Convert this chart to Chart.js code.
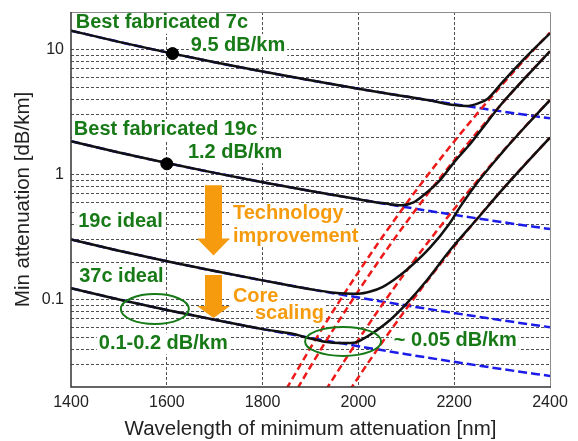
<!DOCTYPE html>
<html lang="en">
<head>
    <meta charset="UTF-8">
    <title>Min attenuation vs wavelength</title>
    <script src="https://cdnjs.cloudflare.com/ajax/libs/Chart.js/4.4.0/chart.umd.min.js"></script>
    <style>
        html, body { margin: 0; padding: 0; background: #fff; }
        #wrap { width: 578px; height: 441px; }
    </style>
</head>
<body>
<div id="wrap"><canvas id="lossChart" width="578" height="441"></canvas></div>
<script>
// wavelength [nm] and attenuation [dB/km]

// blue dashed: scattering-like part of each fibre
const blueWl = [1400, 1500, 1600, 1700, 1800, 1900, 2000, 2100, 2200, 2300, 2400];
const blue7c = [14.2, 11.54, 9.51, 7.93, 6.68, 5.68, 4.87, 4.21, 3.66, 3.2, 2.82];
const blue19c = [1.85, 1.504, 1.239, 1.033, 0.87, 0.74, 0.635, 0.548, 0.477, 0.417, 0.367];
const blueIdeal19 = [0.303, 0.2463, 0.203, 0.1692, 0.1426, 0.1212, 0.1039, 0.0898, 0.0781, 0.0683, 0.0601];
const blueIdeal37 = [0.1235, 0.1004, 0.0827, 0.069, 0.0581, 0.0494, 0.0424, 0.0366, 0.0318, 0.0278, 0.0245];

// red dashed: IR absorption edges
const redWl = [1850, 1900, 1950, 2000, 2050, 2100, 2150, 2200, 2250, 2300, 2350, 2400];
const redA = [0.0194, 0.0412, 0.0841, 0.166, 0.3166, 0.5855, 1.053, 1.843, 3.146, 5.248, 8.566, 13.7];
const redB = [0.01374, 0.02917, 0.0596, 0.1175, 0.2242, 0.4146, 0.7454, 1.305, 2.228, 3.715, 6.065, 9.698];
const redC = [0.00559, 0.01189, 0.02428, 0.04786, 0.0913, 0.1689, 0.3036, 0.5314, 0.9074, 1.514, 2.471, 3.952];
const redD = [0.0028, 0.00594, 0.01214, 0.02393, 0.04566, 0.08446, 0.1518, 0.2658, 0.4537, 0.7568, 1.235, 1.976];

// black: total loss curves
const black7cWl = [1400, 1500, 1600, 1700, 1800, 1900, 2000, 2100, 2150, 2200, 2225, 2250, 2270, 2300, 2350, 2400];
const black7c = [14.2, 11.54, 9.51, 7.93, 6.68, 5.68, 4.87, 4.21, 3.92, 3.6, 3.54, 3.72, 4.05, 5.45, 8.75, 13.5];
const black19cWl = [1400, 1500, 1600, 1700, 1800, 1900, 2000, 2050, 2090, 2115, 2135, 2170, 2200, 2230, 2255, 2300, 2350, 2400];
const black19c = [1.85, 1.504, 1.239, 1.033, 0.87, 0.74, 0.635, 0.592, 0.568, 0.6, 0.68, 0.9, 1.26, 1.7, 2.25, 3.72, 6.05, 9.7];
const blackIdeal19Wl = [1400, 1500, 1600, 1700, 1800, 1900, 1950, 2000, 2025, 2050, 2075, 2100, 2150, 2190, 2212, 2250, 2300, 2350, 2400];
const blackIdeal19 = [0.303, 0.2463, 0.203, 0.1692, 0.1426, 0.1212, 0.1135, 0.1115, 0.116, 0.126, 0.145, 0.172, 0.262, 0.405, 0.55, 0.88, 1.5, 2.46, 3.95];
const blackIdeal37Wl = [1400, 1500, 1600, 1700, 1800, 1860, 1900, 1930, 1960, 1990, 2010, 2030, 2066, 2100, 2143, 2190, 2250, 2300, 2350, 2400];
const blackIdeal37 = [0.1235, 0.1004, 0.0827, 0.069, 0.0581, 0.0535, 0.0488, 0.046, 0.0449, 0.0452, 0.0485, 0.054, 0.0687, 0.0925, 0.143, 0.245, 0.452, 0.755, 1.23, 1.98];

// best fabricated points
const markWl = [1612, 1600];
const markAtt = [9.3, 1.22];

// axis ticks
const xTicks = [1400, 1600, 1800, 2000, 2200, 2400];
const yGrid = [0.02, 0.03, 0.04, 0.05, 0.06, 0.07, 0.08, 0.09, 0.1, 0.2, 0.3, 0.4, 0.5, 0.6, 0.7, 0.8, 0.9,
               1, 2, 3, 4, 5, 6, 7, 8, 9, 10, 20];
const yLabels = [0.1, 1, 10];

// annotations (anchored in data units)
const FONT = '"Liberation Sans", Arial, sans-serif';
const GREEN = '#177a17';
const ORANGE = '#f59b0d';
const greenNotes = [
    { text: 'Best fabricated 7c', wl: 1410, att: 16.4 },
    { text: '9.5 dB/km', wl: 1650, att: 10.86 },
    { text: 'Best fabricated 19c', wl: 1406, att: 2.28 },
    { text: '1.2 dB/km', wl: 1644, att: 1.51 },
    { text: '19c ideal', wl: 1415, att: 0.418 },
    { text: '37c ideal', wl: 1417, att: 0.1526 },
    { text: '0.1-0.2 dB/km', wl: 1458, att: 0.0446 },
    { text: '~ 0.05 dB/km', wl: 2074, att: 0.0471 }
];
const orangeNotes = [
    { text: 'Technology', wl: 1738, att: 0.4846 },
    { text: 'improvement', wl: 1738, att: 0.322 },
    { text: 'Core', wl: 1738, att: 0.106 },
    { text: 'scaling', wl: 1784, att: 0.0773 }
];
const arrows = [
    { wl: 1697.5, top: 0.822, tip: 0.225, head: 17 },
    { wl: 1697.5, top: 0.1576, tip: 0.0712, head: 12 }
];
const ellipses = [
    { wl: 1575, att: 0.084, rx: 34, ry: 15 },
    { wl: 1968, att: 0.0463, rx: 38, ry: 14.5 }
];

const pts = (xs, ys) => xs.map((x, i) => ({ x: x, y: ys[i] }));

function line(data, color, dash, order) {
    return {
        data: data,
        borderColor: color,
        borderWidth: 2.5,
        borderDash: dash,
        pointRadius: 0,
        fill: false,
        cubicInterpolationMode: 'monotone',
        order: order
    };
}

const datasets = [
    {
        data: pts(markWl, markAtt),
        showLine: false,
        pointRadius: 6,
        pointBackgroundColor: '#000',
        pointBorderColor: '#000',
        order: 0
    },
    line(pts(black7cWl, black7c), '#111', [], 1),
    line(pts(black19cWl, black19c), '#111', [], 1),
    line(pts(blackIdeal19Wl, blackIdeal19), '#111', [], 1),
    line(pts(blackIdeal37Wl, blackIdeal37), '#111', [], 1),
    line(pts(redWl, redA), '#ee1a1a', [7, 4], 2),
    line(pts(redWl, redB), '#ee1a1a', [7, 4], 2),
    line(pts(redWl, redC), '#ee1a1a', [7, 4], 2),
    line(pts(redWl, redD), '#ee1a1a', [7, 4], 2),
    line(pts(blueWl, blue7c), '#1c1ce8', [9, 4], 3),
    line(pts(blueWl, blue19c), '#1c1ce8', [9, 4], 3),
    line(pts(blueWl, blueIdeal19), '#1c1ce8', [9, 4], 3),
    line(pts(blueWl, blueIdeal37), '#1c1ce8', [9, 4], 3)
];

function toPx(chart, wl, att) {
    return [chart.scales.x.getPixelForValue(wl), chart.scales.y.getPixelForValue(att)];
}

const decor = {
    id: 'decor',
    beforeDraw(chart) {
        const c = chart.ctx;
        c.save();
        c.fillStyle = '#fff';
        c.fillRect(0, 0, chart.width, chart.height);
        c.restore();
    },
    // white boxes behind the labels hide the grid, curves go on top
    beforeDatasetsDraw(chart) {
        const c = chart.ctx;
        c.save();
        c.fillStyle = '#fff';
        c.font = 'bold 20px ' + FONT;
        greenNotes.concat(orangeNotes).forEach(n => {
            const [x, y] = toPx(chart, n.wl, n.att);
            const w = c.measureText(n.text).width;
            c.fillRect(x - 2, y - 11, w + 4, 22);
        });
        c.restore();
    },
    afterDatasetsDraw(chart) {
        const c = chart.ctx;
        const a = chart.chartArea;
        c.save();

        // ellipses
        c.strokeStyle = GREEN;
        c.lineWidth = 2;
        ellipses.forEach(e => {
            const [x, y] = toPx(chart, e.wl, e.att);
            c.beginPath();
            c.ellipse(x, y, e.rx, e.ry, 0, 0, Math.PI * 2);
            c.stroke();
        });

        // block arrows
        c.fillStyle = ORANGE;
        arrows.forEach(ar => {
            const [x, y0] = toPx(chart, ar.wl, ar.top);
            const y1 = chart.scales.y.getPixelForValue(ar.tip);
            const yb = y1 - ar.head;
            c.beginPath();
            c.moveTo(x - 8.5, y0);
            c.lineTo(x + 8.5, y0);
            c.lineTo(x + 8.5, yb);
            c.lineTo(x + 16.5, yb);
            c.lineTo(x, y1);
            c.lineTo(x - 16.5, yb);
            c.lineTo(x - 8.5, yb);
            c.closePath();
            c.fill();
        });

        // labels
        c.font = 'bold 20px ' + FONT;
        c.textAlign = 'left';
        c.textBaseline = 'middle';
        c.fillStyle = GREEN;
        greenNotes.forEach(n => {
            const [x, y] = toPx(chart, n.wl, n.att);
            c.fillText(n.text, x, y);
        });
        c.fillStyle = ORANGE;
        orangeNotes.forEach(n => {
            const [x, y] = toPx(chart, n.wl, n.att);
            c.fillText(n.text, x, y);
        });

        // frame: dark left/bottom, grey top/right
        c.lineWidth = 1;
        c.strokeStyle = '#8c8c8c';
        c.beginPath();
        c.moveTo(a.left, a.top + 0.5);
        c.lineTo(a.right + 0.5, a.top + 0.5);
        c.lineTo(a.right + 0.5, a.bottom);
        c.stroke();
        c.lineWidth = 1.5;
        c.strokeStyle = '#333';
        c.beginPath();
        c.moveTo(a.left, a.top);
        c.lineTo(a.left, a.bottom);
        c.lineTo(a.right + 1, a.bottom);
        c.stroke();
        c.restore();
    }
};

const edgeX = [xTicks[0], xTicks[xTicks.length - 1]];
const edgeY = [yGrid[0], yGrid[yGrid.length - 1]];

new Chart(document.getElementById('lossChart'), {
    type: 'line',
    data: { datasets: datasets },
    plugins: [decor],
    options: {
        responsive: false,
        animation: false,
        events: [],
        layout: { padding: { left: 0, right: 28, top: 12, bottom: 0 } },
        plugins: {
            legend: { display: false },
            tooltip: { enabled: false }
        },
        scales: {
            x: {
                type: 'linear',
                min: 1400,
                max: 2400,
                afterFit: s => { s.height = 54; s.paddingLeft = 0; s.paddingRight = 0; },
                afterBuildTicks: s => { s.ticks = xTicks.map(v => ({ value: v })); },
                ticks: {
                    padding: 6,
                    color: '#222',
                    maxRotation: 0,
                    autoSkip: false,
                    font: { family: FONT, size: 16 },
                    callback: v => String(v)
                },
                grid: {
                    drawTicks: false,
                    lineWidth: 1,
                    color: ctx => (ctx.tick && edgeX.includes(ctx.tick.value)) ? 'rgba(0,0,0,0)' : '#505050'
                },
                border: { display: false, dash: [3, 2] },
                title: {
                    display: true,
                    text: 'Wavelength of minimum attenuation [nm]',
                    color: '#222',
                    font: { family: FONT, size: 20.5, lineHeight: 1 },
                    padding: { top: 0, bottom: 1 }
                }
            },
            y: {
                type: 'logarithmic',
                min: 0.02,
                max: 20,
                afterFit: s => { s.width = 71; s.paddingTop = 0; s.paddingBottom = 0; },
                afterBuildTicks: s => { s.ticks = yGrid.map(v => ({ value: v })); },
                ticks: {
                    padding: 7,
                    color: '#222',
                    autoSkip: false,
                    font: { family: FONT, size: 16 },
                    callback: v => yLabels.includes(v) ? String(v) : ''
                },
                grid: {
                    drawTicks: false,
                    lineWidth: 1,
                    color: ctx => (ctx.tick && edgeY.includes(ctx.tick.value)) ? 'rgba(0,0,0,0)' : '#505050'
                },
                border: { display: false, dash: [3, 2] },
                title: {
                    display: true,
                    text: 'Min attenuation [dB/km]',
                    color: '#222',
                    font: { family: FONT, size: 20.5, lineHeight: 1 },
                    padding: { top: 13, bottom: 0 }
                }
            }
        }
    }
});
</script>
</body>
</html>
